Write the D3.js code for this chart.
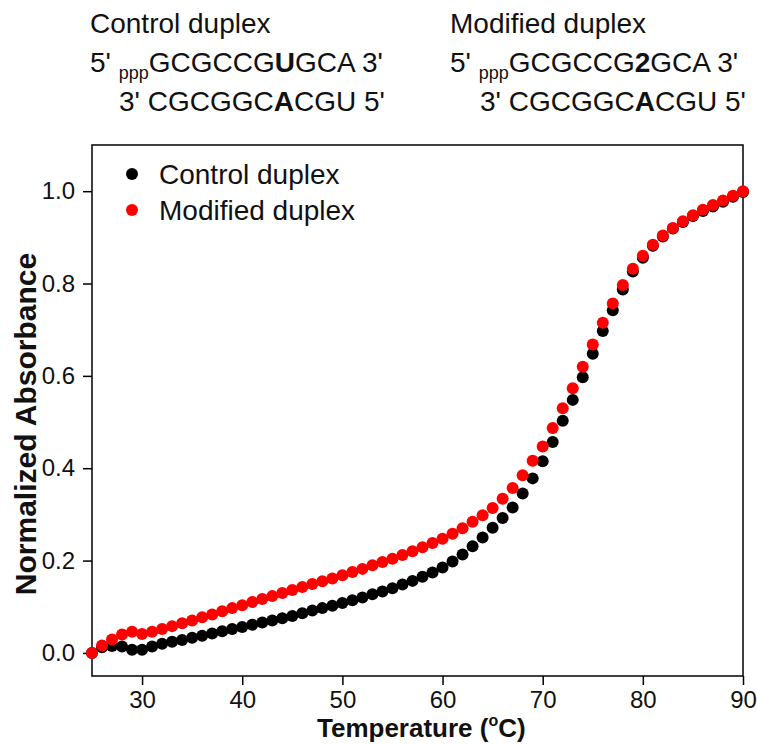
<!DOCTYPE html>
<html>
<head>
<meta charset="utf-8">
<script src="https://cdn.jsdelivr.net/npm/d3@7"></script>
<style>
body { margin: 0; background: #fff; }
svg { display: block; font-family: "Liberation Sans", Arial, sans-serif; }
</style>
</head>
<body>
<svg id="chart" width="757" height="744"></svg>
<script>
// Melting curves data
var temperatures = [25, 26, 27, 28, 29, 30, 31, 32, 33, 34, 35, 36, 37, 38, 39, 40, 41, 42, 43, 44,
    45, 46, 47, 48, 49, 50, 51, 52, 53, 54, 55, 56, 57, 58, 59, 60, 61, 62, 63, 64,
    65, 66, 67, 68, 69, 70, 71, 72, 73, 74, 75, 76, 77, 78, 79, 80, 81, 82, 83, 84,
    85, 86, 87, 88, 89, 90];

var controlValues = [0.000, 0.012, 0.015, 0.014, 0.007, 0.007, 0.014, 0.020, 0.024, 0.028,
    0.033, 0.037, 0.042, 0.047, 0.052, 0.056, 0.061, 0.066, 0.070, 0.075,
    0.080, 0.086, 0.092, 0.097, 0.102, 0.108, 0.114, 0.120, 0.127, 0.133,
    0.140, 0.148, 0.156, 0.165, 0.174, 0.185, 0.198, 0.213, 0.231, 0.250,
    0.271, 0.292, 0.315, 0.345, 0.378, 0.415, 0.457, 0.503, 0.548, 0.597,
    0.648, 0.697, 0.742, 0.787, 0.826, 0.856, 0.882, 0.902, 0.919, 0.933,
    0.946, 0.957, 0.967, 0.977, 0.988, 0.998];

var modifiedValues = [0.000, 0.016, 0.029, 0.040, 0.046, 0.041, 0.046, 0.052, 0.058, 0.064,
    0.070, 0.077, 0.083, 0.090, 0.097, 0.103, 0.110, 0.117, 0.123, 0.130,
    0.136, 0.143, 0.149, 0.155, 0.161, 0.168, 0.175, 0.182, 0.190, 0.197,
    0.204, 0.212, 0.220, 0.229, 0.238, 0.247, 0.258, 0.270, 0.284, 0.298,
    0.314, 0.334, 0.357, 0.385, 0.416, 0.447, 0.487, 0.530, 0.573, 0.620,
    0.668, 0.715, 0.757, 0.797, 0.832, 0.860, 0.884, 0.904, 0.920, 0.935,
    0.948, 0.960, 0.970, 0.980, 0.990, 1.000];

var seriesNames = ["Control duplex", "Modified duplex"];
var seriesColors = ["#000000", "#ff0000"];

var xTicks = [30, 40, 50, 60, 70, 80, 90];
var yTicks = [0.0, 0.2, 0.4, 0.6, 0.8, 1.0];

// Header strands, one segment list per line ("sub" = subscript, "bold" = bold base)
var controlTop = [["5' ", ""], ["ppp", "sub"], ["GCGCCG", ""], ["U", "bold"], ["GCA 3'", ""]];
var modifiedTop = [["5' ", ""], ["ppp", "sub"], ["GCGCCG", ""], ["2", "bold"], ["GCA 3'", ""]];
var bottomStrand = [["3' CGCGGC", ""], ["A", "bold"], ["CGU 5'", ""]];

var svg = d3.select("#chart");

var plot = { left: 92, right: 743, top: 145, bottom: 676 };

var x = d3.scaleLinear().domain([25, 90]).range([plot.left, plot.right]);
var y = d3.scaleLinear().domain([-0.05, 1.1]).range([plot.bottom, plot.top]);

function strandLine(px, py, parts) {
    var t = svg.append("text")
        .attr("x", px)
        .attr("y", py)
        .attr("font-size", 28)
        .attr("fill", "#111");
    parts.forEach(function(p, i) {
        var s = t.append("tspan").text(p[0]);
        if (p[1] == "sub") s.attr("font-size", 18).attr("dy", 7);
        if (p[1] == "bold") s.attr("font-weight", "bold");
        if (i > 0 && parts[i - 1][1] == "sub") s.attr("dy", -7);
    });
}

// Header
svg.append("text").attr("x", 90).attr("y", 33).attr("font-size", 28).attr("fill", "#111").text(seriesNames[0]);
svg.append("text").attr("x", 450).attr("y", 33).attr("font-size", 28).attr("fill", "#111").text(seriesNames[1]);
strandLine(90, 72, controlTop);
strandLine(450, 72, modifiedTop);
strandLine(119, 111, bottomStrand);
strandLine(480, 111, bottomStrand);

// Axes
var xAxis = d3.axisBottom(x)
    .tickValues(xTicks)
    .tickSize(9)
    .tickSizeOuter(0)
    .tickPadding(6)
    .tickFormat(d3.format("d"));

var yAxis = d3.axisLeft(y)
    .tickValues(yTicks)
    .tickSize(9)
    .tickSizeOuter(0)
    .tickPadding(8)
    .tickFormat(d3.format(".1f"));

var gx = svg.append("g").attr("transform", "translate(0," + plot.bottom + ")").call(xAxis);
var gy = svg.append("g").attr("transform", "translate(" + plot.left + ",0)").call(yAxis);

[gx, gy].forEach(function(g) {
    g.select(".domain").remove();
    g.selectAll(".tick line").attr("stroke", "#000").attr("stroke-width", 1.5);
    g.selectAll(".tick text")
        .attr("font-family", "Liberation Sans, Arial, sans-serif")
        .attr("font-size", 24)
        .attr("fill", "#111");
});

// Frame
svg.append("rect")
    .attr("x", plot.left)
    .attr("y", plot.top)
    .attr("width", plot.right - plot.left)
    .attr("height", plot.bottom - plot.top)
    .attr("fill", "none")
    .attr("stroke", "#000")
    .attr("stroke-width", 1.5);

// Points
var series = [controlValues, modifiedValues];
series.forEach(function(values, k) {
    svg.append("g")
        .selectAll("circle")
        .data(values)
        .enter()
        .append("circle")
        .attr("cx", function(d, i) { return x(temperatures[i]); })
        .attr("cy", function(d) { return y(d); })
        .attr("r", 6)
        .attr("fill", seriesColors[k]);
});

// Legend
seriesNames.forEach(function(name, k) {
    var ly = 174 + k * 36;
    svg.append("circle").attr("cx", 132).attr("cy", ly).attr("r", 6).attr("fill", seriesColors[k]);
    svg.append("text")
        .attr("x", 159)
        .attr("y", ly + 10)
        .attr("font-size", 28)
        .attr("fill", "#111")
        .text(name);
});

// Axis titles
var xt = svg.append("text")
    .attr("x", 317)
    .attr("y", 737)
    .attr("font-size", 26)
    .attr("font-weight", "bold")
    .attr("fill", "#111");
xt.append("tspan").text("Temperature (");
xt.append("tspan").text("o").attr("font-size", 16).attr("dy", -11);
xt.append("tspan").text("C)").attr("dy", 11);

svg.append("text")
    .attr("transform", "translate(36,424) rotate(-90)")
    .attr("text-anchor", "middle")
    .attr("font-size", 30)
    .attr("font-weight", "bold")
    .attr("fill", "#111")
    .text("Normalized Absorbance");
</script>
</body>
</html>
